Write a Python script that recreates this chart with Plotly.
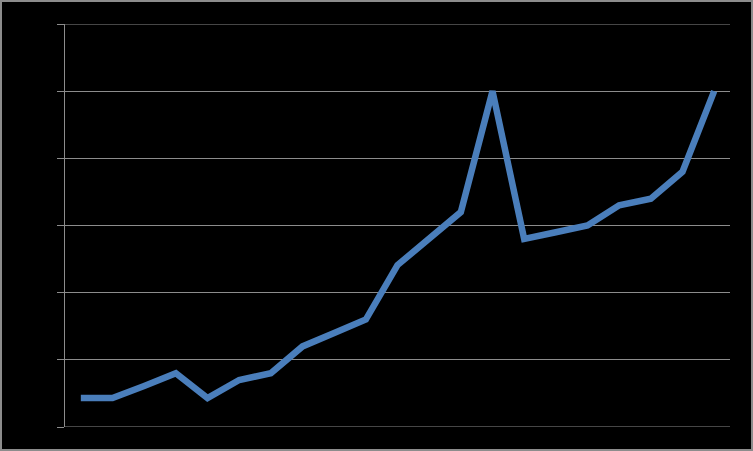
import plotly.graph_objects as go

categories = list(range(1, 22))
values = [0.43, 0.43, 0.61, 0.80, 0.43, 0.70, 0.80, 1.20, 1.40, 1.60, 2.41, 2.80, 3.20,
          5.00, 2.80, 2.90, 3.00, 3.30, 3.40, 3.80, 5.00]
y_min, y_max = 0, 6

W, H = 753, 451
L, R, T, B = 65, 23, 24, 24
pw, ph = W - L - R, H - T - B
GRID = "#8c8c8c"

fig = go.Figure()
fig.add_trace(go.Scatter(
    x=categories, y=values, mode="lines",
    line=dict(color="#4a7ebb", width=6.5),
    hoverinfo="skip",
))

edge_lines = [dict(type="line", xref="paper", yref="y", x0=0, x1=1, y0=v, y1=v,
                   line=dict(color=GRID, width=1), layer="below")
              for v in (y_min, y_max)]

fig.update_layout(
    width=W, height=H,
    margin=dict(l=L, r=R, t=T, b=B),
    paper_bgcolor="black", plot_bgcolor="black",
    showlegend=False,
    xaxis=dict(range=[0.5, 21.5], showgrid=False, zeroline=False,
               showticklabels=False, showline=False, ticks=""),
    yaxis=dict(range=[y_min, y_max], tick0=0, dtick=1, showgrid=True,
               gridcolor=GRID, gridwidth=1,
               zeroline=False, showticklabels=False, showline=True,
               linecolor=GRID, linewidth=1, ticks="outside", ticklen=7,
               tickcolor=GRID, tickwidth=1),
    shapes=edge_lines + [dict(type="rect", xref="paper", yref="paper",
                 x0=(1 - L) / pw, x1=(W - 1 - L) / pw,
                 y0=(T + ph - (H - 1)) / ph, y1=(T + ph - 1) / ph,
                 line=dict(color=GRID, width=2), layer="above")],
)

fig.write_html(
    "out.html",
    config={"displayModeBar": False, "staticPlot": True},
    post_script="document.body.style.margin='0';document.body.style.overflow='hidden';",
)
